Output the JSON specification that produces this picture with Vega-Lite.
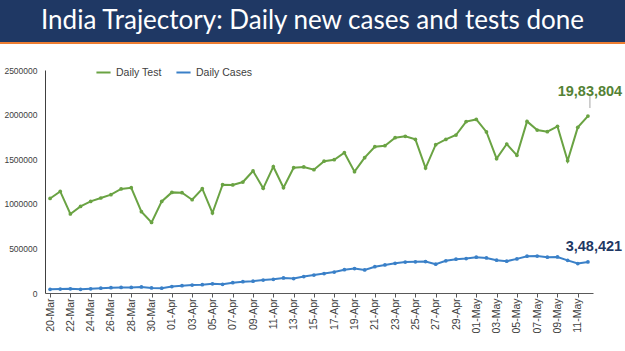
{
  "$schema": "https://vega.github.io/schema/vega-lite/v6.json",
  "padding": 0,
  "background": "white",
  "spacing": 0,
  "bounds": "flush",
  "resolve": {"legend": {"color": "independent"}, "scale": {"color": "independent"}},
  "config": {"view": {"stroke": null}, "font": "Liberation Sans"},
  "vconcat": [
    {
      "width": 625,
      "height": 42,
      "view": {"fill": "#1F3864", "stroke": null},
      "data": {"values": [{"t": "India Trajectory: Daily new cases and tests done"}]},
      "mark": {"type": "text", "font": "Lato", "fontSize": 26, "color": "white", "baseline": "middle", "align": "center"},
      "encoding": {"text": {"field": "t"}}
    },
    {
      "width": 625,
      "height": 2,
      "view": {"fill": "#ED7D31", "stroke": null},
      "data": {"values": [{"t": ""}]},
      "mark": {"type": "text"},
      "encoding": {"text": {"field": "t"}}
    },
    {
      "width": 625,
      "height": 26,
      "data": {"values": [{"t": ""}]},
      "mark": {"type": "text"},
      "encoding": {"text": {"field": "t"}}
    },
    {
      "spacing": 0,
      "bounds": "flush",
      "resolve": {"legend": {"color": "independent"}, "scale": {"color": "independent"}},
      "hconcat": [
        {
          "width": 45,
          "height": 223,
          "data": {"values": [{"t": ""}]},
          "mark": {"type": "text"},
          "encoding": {"text": {"field": "t"}}
        },
        {
          "width": 548,
          "height": 223,
          "data": {
            "values": [
              {"date": "20-Mar", "Daily Test": 1060000, "Daily Cases": 40953},
              {"date": "21-Mar", "Daily Test": 1139000, "Daily Cases": 43846},
              {"date": "22-Mar", "Daily Test": 886000, "Daily Cases": 46951},
              {"date": "23-Mar", "Daily Test": 971000, "Daily Cases": 40715},
              {"date": "24-Mar", "Daily Test": 1027000, "Daily Cases": 47262},
              {"date": "25-Mar", "Daily Test": 1065000, "Daily Cases": 53476},
              {"date": "26-Mar", "Daily Test": 1102000, "Daily Cases": 59118},
              {"date": "27-Mar", "Daily Test": 1166000, "Daily Cases": 62258},
              {"date": "28-Mar", "Daily Test": 1180000, "Daily Cases": 62714},
              {"date": "29-Mar", "Daily Test": 911000, "Daily Cases": 68020},
              {"date": "30-Mar", "Daily Test": 791000, "Daily Cases": 56211},
              {"date": "31-Mar", "Daily Test": 1027000, "Daily Cases": 53480},
              {"date": "01-Apr", "Daily Test": 1128000, "Daily Cases": 72330},
              {"date": "02-Apr", "Daily Test": 1125000, "Daily Cases": 81466},
              {"date": "03-Apr", "Daily Test": 1046000, "Daily Cases": 89129},
              {"date": "04-Apr", "Daily Test": 1169000, "Daily Cases": 93249},
              {"date": "05-Apr", "Daily Test": 897000, "Daily Cases": 103558},
              {"date": "06-Apr", "Daily Test": 1214000, "Daily Cases": 96982},
              {"date": "07-Apr", "Daily Test": 1211000, "Daily Cases": 115736},
              {"date": "08-Apr", "Daily Test": 1244000, "Daily Cases": 126789},
              {"date": "09-Apr", "Daily Test": 1368000, "Daily Cases": 131968},
              {"date": "10-Apr", "Daily Test": 1173000, "Daily Cases": 145384},
              {"date": "11-Apr", "Daily Test": 1416000, "Daily Cases": 152879},
              {"date": "12-Apr", "Daily Test": 1180000, "Daily Cases": 168912},
              {"date": "13-Apr", "Daily Test": 1405000, "Daily Cases": 161736},
              {"date": "14-Apr", "Daily Test": 1413000, "Daily Cases": 184372},
              {"date": "15-Apr", "Daily Test": 1382000, "Daily Cases": 200739},
              {"date": "16-Apr", "Daily Test": 1478000, "Daily Cases": 217353},
              {"date": "17-Apr", "Daily Test": 1494000, "Daily Cases": 234692},
              {"date": "18-Apr", "Daily Test": 1573000, "Daily Cases": 261500},
              {"date": "19-Apr", "Daily Test": 1360000, "Daily Cases": 273810},
              {"date": "20-Apr", "Daily Test": 1517000, "Daily Cases": 259170},
              {"date": "21-Apr", "Daily Test": 1640000, "Daily Cases": 295041},
              {"date": "22-Apr", "Daily Test": 1651000, "Daily Cases": 314835},
              {"date": "23-Apr", "Daily Test": 1741000, "Daily Cases": 332730},
              {"date": "24-Apr", "Daily Test": 1756000, "Daily Cases": 346786},
              {"date": "25-Apr", "Daily Test": 1722000, "Daily Cases": 349691},
              {"date": "26-Apr", "Daily Test": 1401000, "Daily Cases": 352991},
              {"date": "27-Apr", "Daily Test": 1663000, "Daily Cases": 323144},
              {"date": "28-Apr", "Daily Test": 1722000, "Daily Cases": 360960},
              {"date": "29-Apr", "Daily Test": 1771000, "Daily Cases": 379257},
              {"date": "30-Apr", "Daily Test": 1922000, "Daily Cases": 386452},
              {"date": "01-May", "Daily Test": 1946000, "Daily Cases": 401993},
              {"date": "02-May", "Daily Test": 1805000, "Daily Cases": 392488},
              {"date": "03-May", "Daily Test": 1506000, "Daily Cases": 368147},
              {"date": "04-May", "Daily Test": 1670000, "Daily Cases": 357229},
              {"date": "05-May", "Daily Test": 1543000, "Daily Cases": 382315},
              {"date": "06-May", "Daily Test": 1924000, "Daily Cases": 412262},
              {"date": "07-May", "Daily Test": 1827000, "Daily Cases": 414188},
              {"date": "08-May", "Daily Test": 1808000, "Daily Cases": 401078},
              {"date": "09-May", "Daily Test": 1868000, "Daily Cases": 403738},
              {"date": "10-May", "Daily Test": 1483000, "Daily Cases": 366161},
              {"date": "11-May", "Daily Test": 1857000, "Daily Cases": 329942},
              {"date": "12-May", "Daily Test": 1983804, "Daily Cases": 348421}
            ]
          },
          "transform": [{"fold": ["Daily Test", "Daily Cases"], "as": ["series", "value"]}],
          "encoding": {
            "x": {
              "field": "date",
              "type": "ordinal",
              "sort": null,
              "scale": {"type": "point", "padding": 0.5},
              "axis": {
                "title": null,
                "values": ["20-Mar","22-Mar","24-Mar","26-Mar","28-Mar","30-Mar","01-Apr","03-Apr","05-Apr","07-Apr","09-Apr","11-Apr","13-Apr","15-Apr","17-Apr","19-Apr","21-Apr","23-Apr","25-Apr","27-Apr","29-Apr","01-May","03-May","05-May","07-May","09-May","11-May"],
                "labelAngle": -90,
                "labelFont": "Liberation Sans",
                "labelFontSize": 10.5,
                "labelColor": "#404040",
                "tickSize": 4,
                "tickColor": "#595959",
                "domainColor": "#595959",
                "labelPadding": 1,
                "grid": false
              }
            },
            "y": {
              "field": "value",
              "type": "quantitative",
              "scale": {"domain": [0, 2500000]},
              "axis": {
                "title": null,
                "values": [0, 500000, 1000000, 1500000, 2000000, 2500000],
                "format": "d",
                "grid": false,
                "ticks": false,
                "labelPadding": 8,
                "minExtent": 45,
                "maxExtent": 45,
                "labelFont": "Liberation Sans",
                "labelFontSize": 8.5,
                "labelColor": "#404040",
                "domainColor": "#404040"
              }
            }
          },
          "layer": [
            {
              "mark": {"type": "line", "strokeWidth": 2, "point": {"size": 14, "filled": true}},
              "encoding": {
                "color": {
                  "field": "series",
                  "type": "nominal",
                  "scale": {"domain": ["Daily Test", "Daily Cases"], "range": ["#6AA343", "#3A80C8"]},
                  "legend": {
                    "title": null,
                    "orient": "none",
                    "legendX": 50,
                    "legendY": -6,
                    "direction": "horizontal",
                    "symbolType": "stroke",
                    "symbolStrokeWidth": 2,
                    "symbolSize": 200,
                    "labelFont": "Liberation Sans",
                    "labelFontSize": 10.5,
                    "labelColor": "#404040",
                    "columnPadding": 10
                  }
                }
              }
            },
            {
              "transform": [{"filter": "datum.date === '12-May' && datum.series === 'Daily Test'"}],
              "mark": {"type": "rule", "color": "#A6A6A6", "strokeWidth": 1, "xOffset": 2, "yOffset": -8, "y2Offset": -20},
              "encoding": {"y2": {"field": "value"}}
            },
            {
              "transform": [{"filter": "datum.date === '12-May' && datum.series === 'Daily Test'"}],
              "mark": {"type": "text", "font": "Liberation Sans", "fontWeight": "bold", "fontSize": 14.5, "color": "#548235", "dx": 2, "dy": -24},
              "encoding": {"text": {"value": "19,83,804"}}
            },
            {
              "transform": [{"filter": "datum.date === '12-May' && datum.series === 'Daily Cases'"}],
              "mark": {"type": "text", "font": "Liberation Sans", "fontWeight": "bold", "fontSize": 14.5, "color": "#1F3864", "dx": 6, "dy": -15},
              "encoding": {"text": {"value": "3,48,421"}}
            }
          ]
        }
      ]
    }
  ]
}
